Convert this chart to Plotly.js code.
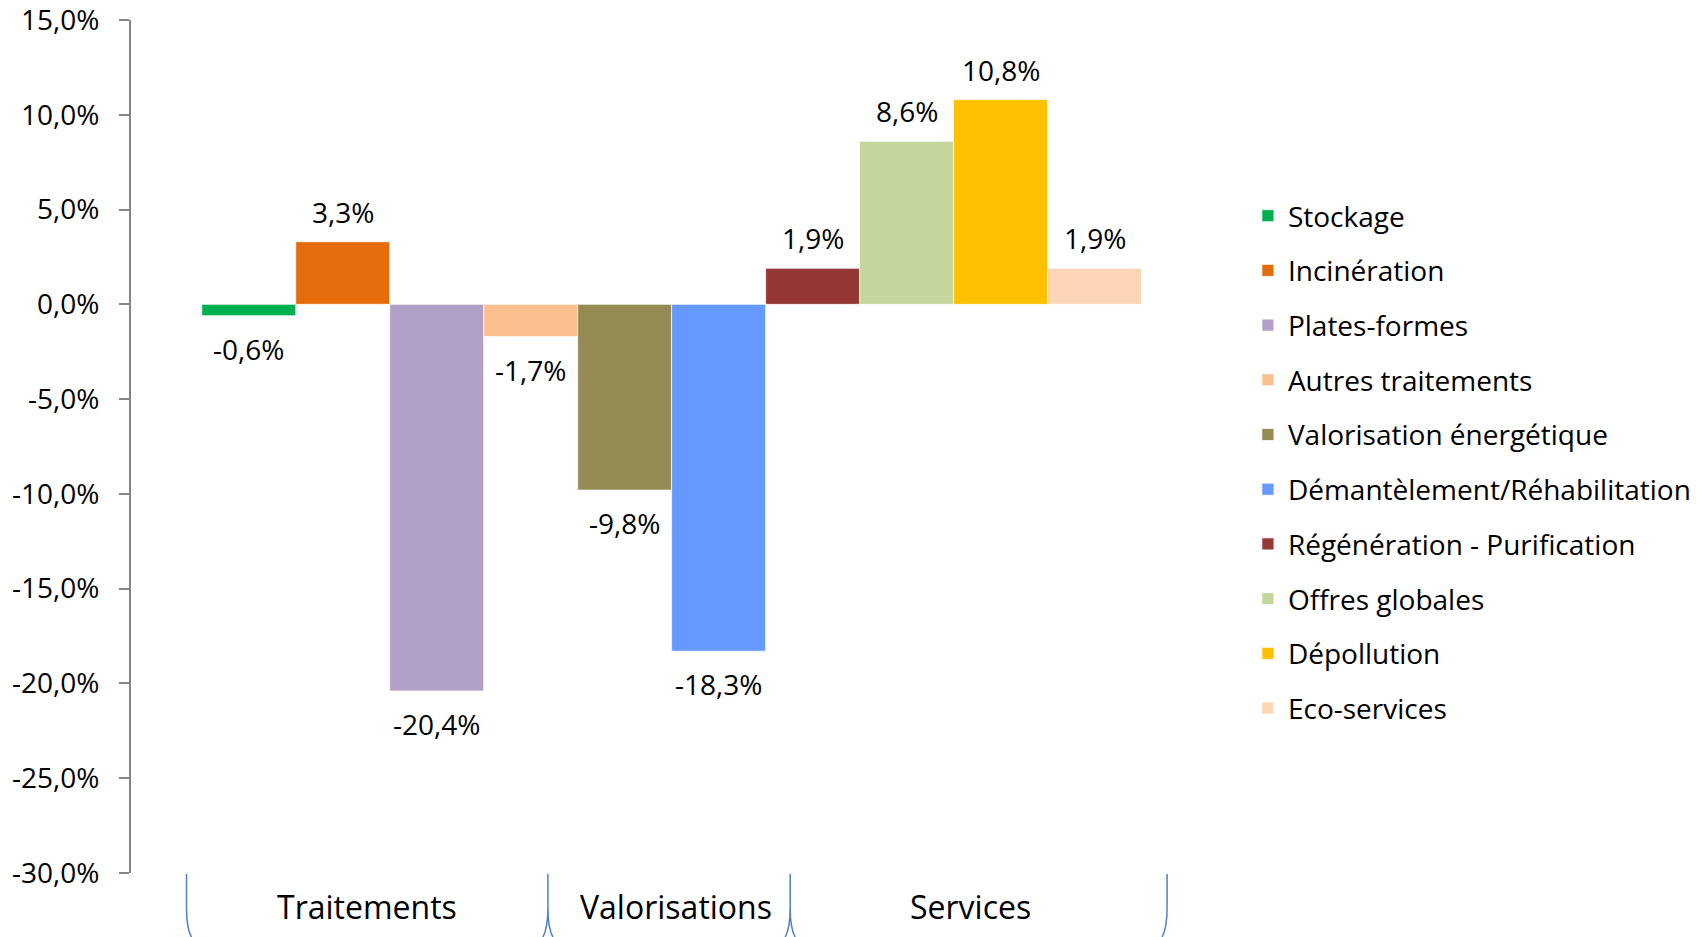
<!DOCTYPE html>
<html>
<head>
<meta charset="utf-8">
<script src="https://cdn.plot.ly/plotly-3.0.1.min.js"></script>
<style>html,body{margin:0;padding:0;background:#fff;}#chart{width:1708px;height:937px;}</style>
</head>
<body>
<div id="chart"></div>
<script>
// ---- data ----
const groups = ['Traitements', 'Valorisations', 'Services'];
const series = ['Stockage', 'Incinération', 'Plates-formes', 'Autres traitements',
  'Valorisation énergétique', 'Démantèlement/Réhabilitation', 'Régénération - Purification',
  'Offres globales', 'Dépollution', 'Eco-services'];
const values = [-0.6, 3.3, -20.4, -1.7, -9.8, -18.3, 1.9, 8.6, 10.8, 1.9];
const colors = ['#00B050', '#E46C0A', '#B2A1C7', '#FAC090', '#948A54',
  '#6699FF', '#953735', '#C3D69B', '#FFC000', '#FCD5B5'];
const yTickVals = [15, 10, 5, 0, -5, -10, -15, -20, -25, -30];
const yTickText = ['15,0%', '10,0%', '5,0%', '0,0%', '-5,0%', '-10,0%', '-15,0%', '-20,0%', '-25,0%', '-30,0%'];

// ---- layout helpers (pixel geometry of the figure) ----
const W = 1708, H = 937;
const L = 131, R = 1200, T = 20, B = 873;
const px = p => (p - L) / (R - L);
const py = p => (B - p) / (B - T);
const FONT = 'Open Sans, Noto Sans, sans-serif';

const fmt = v => v.toFixed(1).replace('.', ',') + '%';

const traces = series.map((s, i) => ({
  type: 'bar',
  name: s,
  legendgroup: s,
  x: [s],
  y: [values[i]],
  marker: {color: colors[i], line: {color: 'rgba(255,255,255,0.7)', width: 1}},
  hoverinfo: 'skip'
}));

const annotations = series.map((s, i) => ({
  x: s, y: values[i], xref: 'x', yref: 'y',
  text: fmt(values[i]), showarrow: false,
  yanchor: 'middle', yshift: values[i] >= 0 ? 30 : -33,
  font: {family: FONT, size: 28, color: '#000'}
}));

// group labels and bracket separators
const bracketPx = [186.6, 548.7, 791.4, 1169];
const groupLabelPx = [367, 677.5, 971.6];
groups.forEach((g, k) => {
  annotations.push({
    xref: 'paper', yref: 'paper',
    x: px(groupLabelPx[k]), y: py(906),
    text: g, showarrow: false, xanchor: 'center', yanchor: 'middle',
    font: {family: FONT, size: 32, color: '#000'}
  });
});

const shapes = bracketPx.map((X, k) => {
  const pt = (a, b) => px(a) + ',' + py(b);
  let d = 'M' + pt(X, 874) + ' L' + pt(X, 908);
  if (k > 0) d += ' Q' + pt(X, 928) + ' ' + pt(X - 5, 937);
  if (k < bracketPx.length - 1) d += ' M' + pt(X, 908) + ' Q' + pt(X, 928) + ' ' + pt(X + 5, 937);
  return {type: 'path', xref: 'paper', yref: 'paper', path: d,
    line: {color: '#4F81BD', width: 1.5}};
});

const layout = {
  width: W, height: H,
  margin: {l: L, r: W - R, t: T, b: H - B, pad: 0},
  paper_bgcolor: '#fff', plot_bgcolor: '#fff',
  barmode: 'overlay', bargap: 0,
  showlegend: true,
  font: {family: FONT, color: '#000'},
  xaxis: {
    type: 'category', range: [-1.253, 10.101],
    showticklabels: false, showgrid: false, zeroline: false, showline: false, ticks: '',
    fixedrange: true
  },
  yaxis: {
    range: [-30, 15], tickmode: 'array', tickvals: yTickVals, ticktext: yTickText,
    showgrid: false, zeroline: false,
    showline: true, linecolor: '#868686', linewidth: 2,
    ticks: 'outside', ticklen: 10, tickwidth: 2, tickcolor: '#868686',
    ticklabelstandoff: 14, ticklabeloverflow: 'allow',
    tickfont: {family: FONT, size: 28, color: '#000'},
    fixedrange: true
  },
  legend: {
    x: px(1250), y: py(191), xanchor: 'left', yanchor: 'top',
    traceorder: 'grouped', tracegroupgap: 15.3,
    font: {family: FONT, size: 28, color: '#000'},
    bgcolor: 'rgba(0,0,0,0)', borderwidth: 0
  },
  annotations: annotations,
  shapes: shapes
};

Plotly.newPlot('chart', traces, layout, {displayModeBar: false, staticPlot: true});
</script>
</body>
</html>
